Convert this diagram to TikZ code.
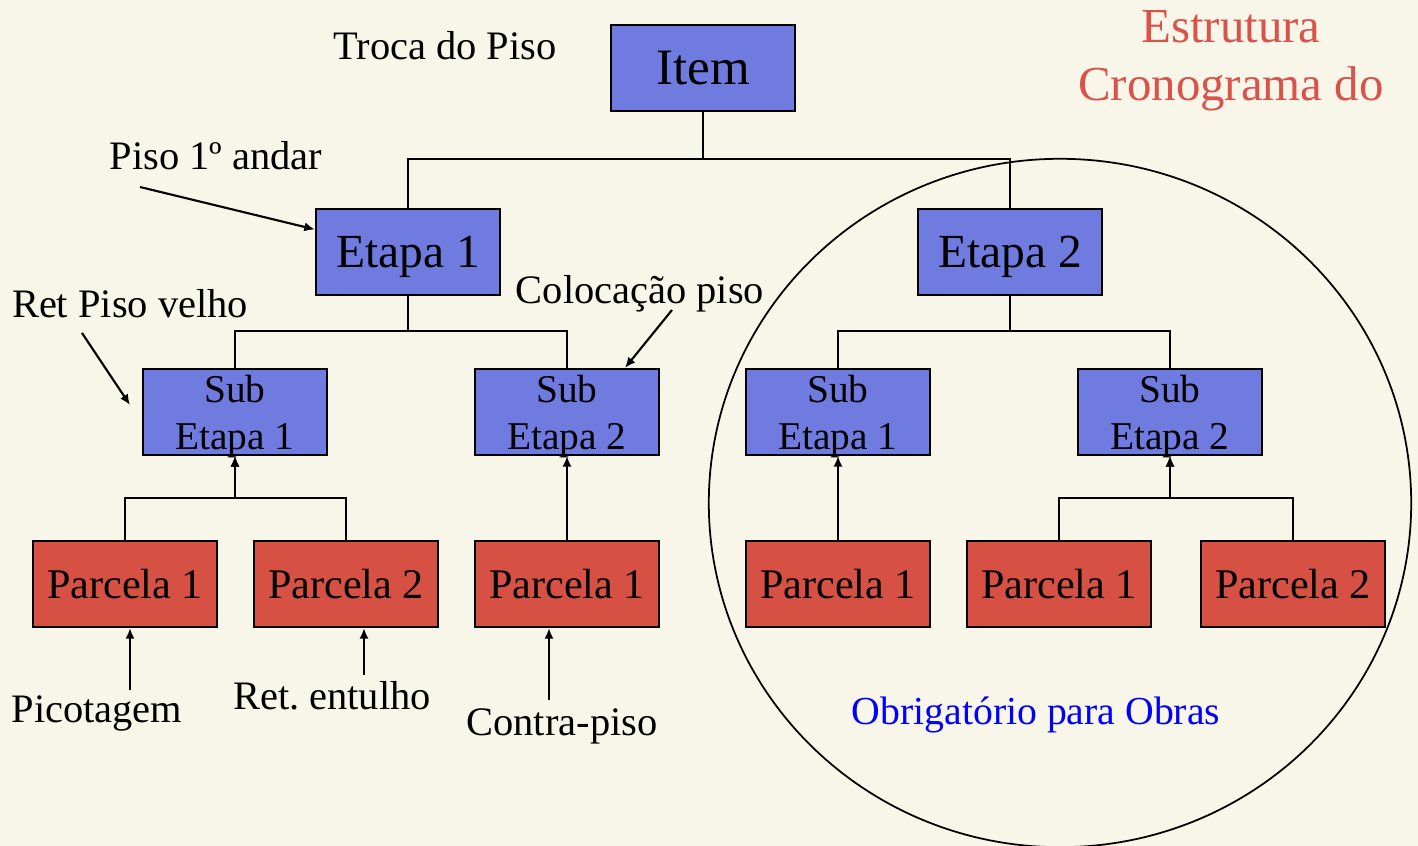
\documentclass[tikz,border=0pt]{standalone}
\usepackage{fontspec}
\setmainfont{Liberation Serif}
\usetikzlibrary{arrows.meta}
\frenchspacing

\definecolor{bgcream}{RGB}{248,246,232}
\definecolor{boxblue}{RGB}{112,123,224}
\definecolor{boxred}{RGB}{214,80,68}
\definecolor{titlered}{RGB}{217,83,74}

\tikzset{
  box/.style={draw, line width=0.6pt, minimum width=1.84cm, minimum height=0.86cm,
    inner sep=0pt, text depth=0pt},
  bluebox/.style={box, fill=boxblue},
  subbox/.style={bluebox, align=center, font=\fontsize{11.2}{13.3}\selectfont},
  redbox/.style={box, fill=boxred, font=\fontsize{12}{14}\selectfont},
  note/.style={anchor=base, inner sep=0pt, font=\fontsize{11.5}{13.8}\selectfont},
}

\begin{document}
\begin{tikzpicture}[x=0.01cm, y=-0.01cm, line width=0.6pt, >={Latex[length=3pt,width=2.6pt]}]
        \useasboundingbox[fill=bgcream] (0,0) rectangle (1418,846);

        % Draw the circle
        \draw[line width=0.5pt] (1060,503) ellipse [x radius=3.51cm, y radius=3.44cm];

        % Define the boxes
        \node[bluebox, font=\fontsize{14.5}{17}\selectfont] (I) at (703,68) {Item};
        \node[bluebox, font=\fontsize{13.5}{16}\selectfont] (E1) at (408,252) {Etapa 1};
        \node[bluebox, font=\fontsize{13.5}{16}\selectfont] (E2) at (1010,252) {Etapa 2};

        \node[subbox] (S11) at (235,412) {Sub\\Etapa 1};
        \node[subbox] (S12) at (567,412) {Sub\\Etapa 2};
        \node[subbox] (S21) at (838,412) {Sub\\Etapa 1};
        \node[subbox] (S22) at (1170,412) {Sub\\Etapa 2};

        \node[redbox] (P11) at (125,584) {Parcela 1};
        \node[redbox] (P12) at (346,584) {Parcela 2};
        \node[redbox] (P13) at (567,584) {Parcela 1};
        \node[redbox] (P21) at (838,584) {Parcela 1};
        \node[redbox] (P22) at (1059,584) {Parcela 1};
        \node[redbox] (P23) at (1293,584) {Parcela 2};

        % Define the labels
        \node[note] (troca) at (445,60) {Troca do Piso};
        \node[note] (piso) at (216,170) {Piso 1º andar};
        \node[note] (ret) at (130,318) {Ret Piso velho};
        \node[note] (coloc) at (640,304) {Colocação piso};
        \node[note] (pico) at (97,722) {Picotagem};
        \node[note] (entulho) at (332,709) {Ret. entulho};
        \node[note] (contra) at (562,735) {Contra-piso};
        \node[note, text=blue, font=\fontsize{11.3}{13.5}\selectfont] (obrig) at (1036,724) {Obrigatório para Obras};
        \node[note, text=titlered, font=\fontsize{13.9}{16}\selectfont] (title1) at (1231,43) {Estrutura};
        \node[note, text=titlered, font=\fontsize{13.9}{16}\selectfont] (title2) at (1231,101) {Cronograma do};

        % Draw the tree
        \draw (I) -- ++(0,91) -| (E1);
        \draw (I) -- ++(0,91) -| (E2);
        \draw (E1) -- ++(0,79) -| (S11);
        \draw (E1) -- ++(0,79) -| (S12);
        \draw (E2) -- ++(0,79) -| (S21);
        \draw (E2) -- ++(0,79) -| (S22);
        \draw[->] (P11) -- ++(0,-86) -| (S11);
        \draw[->] (P12) -- ++(0,-86) -| (S11);
        \draw[->] (P13) -- (S12);
        \draw[->] (P21) -- (S21);
        \draw[->] (P22) -- ++(0,-86) -| (S22);
        \draw[->] (P23) -- ++(0,-86) -| (S22);

        % Draw the label arrows
        \coordinate (pisoTail) at (140,187);
        \coordinate (retTail) at (82,333);
        \coordinate (retTip) at (130,405);
        \coordinate (colocTail) at (672,310);
        \coordinate (picoTail) at (130,690);
        \coordinate (entTail) at (364,675);
        \coordinate (contraTail) at (549,700);
        \draw[->] (pisoTail) -- (E1);
        \draw[->] (retTail) -- (retTip);
        \draw[->] (colocTail) -- (S12.north -| 625,0);
        \draw[->] (picoTail) -- (picoTail |- P11.south);
        \draw[->] (entTail) -- (entTail |- P12.south);
        \draw[->] (contraTail) -- (contraTail |- P13.south);
    \end{tikzpicture}
\end{document}
